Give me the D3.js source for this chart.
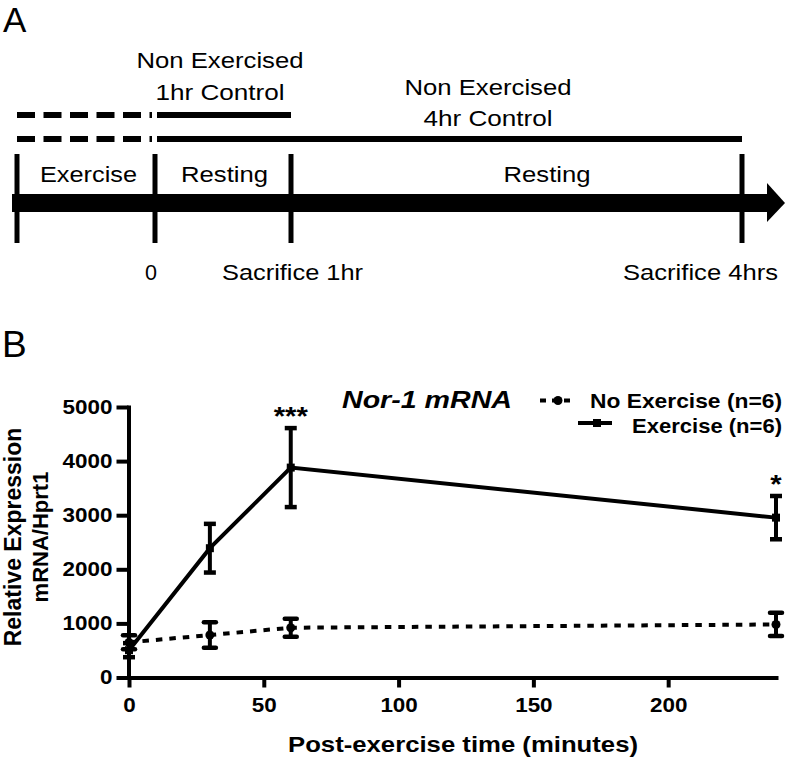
<!DOCTYPE html>
<html><head><meta charset="utf-8">
<script src="https://cdn.jsdelivr.net/npm/d3@7"></script>
<style>
body{margin:0;background:#fff}
text{font-family:"Liberation Sans",Arial,Helvetica,sans-serif;fill:#000}
</style>
</head><body><svg id="c" width="788" height="760"></svg>
<script>
// ---------- Panel A: protocol timeline ----------
const timelineMarks = [-1, 0, 1, 4];            // hours relative to end of exercise
const markLabels = ["", "0", "Sacrifice 1hr", "Sacrifice 4hrs"];
const phaseLabels = ["Exercise", "Resting", "Resting"];
const controlTitles = [["Non Exercised", "1hr Control"], ["Non Exercised", "4hr Control"]];
const controlEnds = [1, 4];

// ---------- Panel B: Nor-1 mRNA ----------
const times = [0, 30, 60, 240];
const exerciseMean = [505, 2390, 3880, 2955];
const exerciseErr = [130, 450, 730, 400];
const noExerciseMean = [650, 785, 920, 980];
const noExerciseErr = [130, 235, 165, 215];
const significance = ["", "", "***", "*"];
const xTicks = [0, 50, 100, 150, 200];
const yTicks = [0, 1000, 2000, 3000, 4000, 5000];
const seriesNames = ["No Exercise (n=6)", "Exercise (n=6)"];

const svg = d3.select("#c");

function stretch(sel, k) {
  sel.each(function () {
    const w = this.getComputedTextLength();
    this.setAttribute("textLength", w * k);
    this.setAttribute("lengthAdjust", "spacingAndGlyphs");
  });
  return sel;
}
function fitTo(sel, w) {
  sel.attr("textLength", w).attr("lengthAdjust", "spacingAndGlyphs");
  return sel;
}

// ================= Panel A =================
const A = svg.append("g");
const t = d3.scaleLinear().domain(timelineMarks).range([17, 155, 291, 742]);
const FA = 22;

A.append("text").attr("x", 3).attr("y", 32).style("font-size", "35px").text("A");

// main arrow
const barY = 203, barH = 18;
A.append("rect").attr("x", 12).attr("y", barY - barH / 2)
  .attr("width", t(4) + 26 - 12).attr("height", barH).attr("fill", "#000");
A.append("path")
  .attr("d", `M${t(4) + 25},${barY - 20} L${t(4) + 43},${barY} L${t(4) + 25},${barY + 19} Z`)
  .attr("fill", "#000");

// vertical markers
A.selectAll("line.mark").data(timelineMarks).join("line")
  .attr("x1", d => t(d)).attr("x2", d => t(d))
  .attr("y1", 154).attr("y2", 243)
  .attr("stroke", "#000").attr("stroke-width", 5);

// control group lines
const rowY = [115, 139];
controlEnds.forEach((end, i) => {
  A.append("line").attr("x1", t(-1)).attr("x2", t(0) - 3)
    .attr("y1", rowY[i]).attr("y2", rowY[i])
    .attr("stroke", "#000").attr("stroke-width", 6).attr("stroke-dasharray", "18,8.5");
  A.append("line").attr("x1", t(0) + 2).attr("x2", t(end))
    .attr("y1", rowY[i]).attr("y2", rowY[i])
    .attr("stroke", "#000").attr("stroke-width", 6);
});

// control titles
const ctrlX = [220, 488];
const ctrlY = [[68, 100], [95, 126]];
const ctrlW = [[167, 129], [167, 129]];
controlTitles.forEach((lines, i) => {
  lines.forEach((s, j) => {
    fitTo(A.append("text").attr("x", ctrlX[i]).attr("y", ctrlY[i][j])
      .attr("text-anchor", "middle").style("font-size", FA + "px").text(s), ctrlW[i][j]);
  });
});

// phase labels
const phaseX = [88.5, 224.5, 547];
const phaseW = [97, 87, 87];
phaseLabels.forEach((s, i) => {
  fitTo(A.append("text").attr("x", phaseX[i]).attr("y", 182)
    .attr("text-anchor", "middle").style("font-size", FA + "px").text(s), phaseW[i]);
});

// mark labels
const markX = [0, 151, 292.5, 778];
const markW = [0, 12, 141, 155];
const markAnchor = ["middle", "middle", "middle", "end"];
markLabels.forEach((s, i) => {
  if (!s) return;
  fitTo(A.append("text").attr("x", markX[i]).attr("y", 280)
    .attr("text-anchor", markAnchor[i]).style("font-size", FA + "px").text(s), markW[i]);
});

// ================= Panel B =================
const B = svg.append("g");
const KB = 1.15;
B.append("text").attr("x", 2).attr("y", 357).style("font-size", "37px").text("B");

const x = d3.scaleLinear().domain([0, 240]).range([129, 776]);
const y = d3.scaleLinear().domain([0, 5000]).range([677.5, 407]);

// axes
const yAxis = B.append("g").attr("transform", "translate(128.5,0)")
  .call(d3.axisLeft(y).tickValues(yTicks).tickFormat(d3.format("d"))
    .tickSize(12).tickSizeOuter(0).tickPadding(4));
const xAxis = B.append("g").attr("transform", "translate(0,677.5)")
  .call(d3.axisBottom(x).tickValues(xTicks).tickFormat(d3.format("d"))
    .tickSize(10).tickSizeOuter(0).tickPadding(12));
[yAxis, xAxis].forEach(g => {
  g.select(".domain").attr("stroke", "#000").attr("stroke-width", 4).attr("stroke-linecap", "square");
  g.selectAll(".tick line").attr("stroke", "#000").attr("stroke-width", 4);
  g.selectAll(".tick text").attr("fill", "#000")
    .style("font-family", '"Liberation Sans",Arial,sans-serif')
    .style("font-size", "19.5px").style("font-weight", "bold");
});
xAxis.selectAll(".tick text").attr("y", 0).attr("dy", 0).attr("transform", "translate(0,34.5)");
stretch(yAxis.selectAll(".tick text"), KB);
stretch(xAxis.selectAll(".tick text"), KB);

// axis titles
fitTo(B.append("text").attr("x", 463).attr("y", 752).attr("text-anchor", "middle")
  .style("font-size", "22px").style("font-weight", "bold").text("Post-exercise time (minutes)"), 350);
B.append("text").attr("transform", "translate(21,537) rotate(-90)").attr("text-anchor", "middle")
  .style("font-size", "23px").style("font-weight", "bold").text("Relative Expression");
B.append("text").attr("transform", "translate(48,537) rotate(-90)").attr("text-anchor", "middle")
  .style("font-size", "22px").style("font-weight", "bold").text("mRNA/Hprt1");

// chart title
fitTo(B.append("text").attr("x", 342).attr("y", 408)
  .style("font-size", "24px").style("font-weight", "bold").style("font-style", "italic")
  .text("Nor-1 mRNA"), 170);

// series
const series = [
  { name: seriesNames[0], mean: noExerciseMean, err: noExerciseErr, dash: "6.5,7", marker: "circle" },
  { name: seriesNames[1], mean: exerciseMean, err: exerciseErr, dash: null, marker: "square" }
];
const line = d3.line().x(d => x(d.t)).y(d => y(d.m));

series.forEach(s => {
  const pts = times.map((tt, i) => ({ t: tt, m: s.mean[i], e: s.err[i] }));
  const g = B.append("g");
  g.append("path").attr("d", line(pts)).attr("fill", "none")
    .attr("stroke", "#000").attr("stroke-width", 4)
    .attr("stroke-dasharray", s.dash);
  const eb = g.selectAll("g.eb").data(pts).join("g");
  eb.append("line").attr("x1", d => x(d.t)).attr("x2", d => x(d.t))
    .attr("y1", d => y(d.m + d.e)).attr("y2", d => y(d.m - d.e))
    .attr("stroke", "#000").attr("stroke-width", 4);
  [1, -1].forEach(sg => {
    eb.append("line").attr("x1", d => x(d.t) - 6).attr("x2", d => x(d.t) + 6)
      .attr("y1", d => y(d.m + sg * d.e)).attr("y2", d => y(d.m + sg * d.e))
      .attr("stroke", "#000").attr("stroke-width", 4.5)
      .attr("stroke-linecap", s.marker === "circle" ? "round" : "butt");
  });
  if (s.marker === "circle") {
    g.selectAll("circle").data(pts).join("circle")
      .attr("cx", d => x(d.t)).attr("cy", d => y(d.m)).attr("r", 4.5).attr("fill", "#000");
  } else {
    g.selectAll("rect").data(pts).join("rect")
      .attr("x", d => x(d.t) - 4).attr("y", d => y(d.m) - 4)
      .attr("width", 8).attr("height", 8).attr("fill", "#000");
  }
});

// significance stars
times.forEach((tt, i) => {
  if (!significance[i]) return;
  const top = y(exerciseMean[i] + exerciseErr[i]);
  stretch(B.append("text").attr("x", x(tt)).attr("y", top)
    .attr("dy", -3).attr("text-anchor", "middle")
    .style("font-size", "25px").style("font-weight", "bold").text(significance[i]), 1.17);
});

// legend
const legY = [400.5, 423];
const legTextY = [408, 433];
const legW = [192, 150];
B.append("line").attr("x1", 540).attr("x2", 571).attr("y1", legY[0]).attr("y2", legY[0])
  .attr("stroke", "#000").attr("stroke-width", 4).attr("stroke-dasharray", "6,6");
B.append("circle").attr("cx", 558).attr("cy", legY[0]).attr("r", 4.5).attr("fill", "#000");
B.append("line").attr("x1", 578).attr("x2", 612).attr("y1", legY[1]).attr("y2", legY[1])
  .attr("stroke", "#000").attr("stroke-width", 4);
B.append("rect").attr("x", 593).attr("y", legY[1] - 4).attr("width", 8).attr("height", 8).attr("fill", "#000");
seriesNames.forEach((s, i) => {
  fitTo(B.append("text").attr("x", 782).attr("y", legTextY[i]).attr("text-anchor", "end")
    .style("font-size", "21px").style("font-weight", "bold").text(s), legW[i]);
});
</script>
</body></html>
